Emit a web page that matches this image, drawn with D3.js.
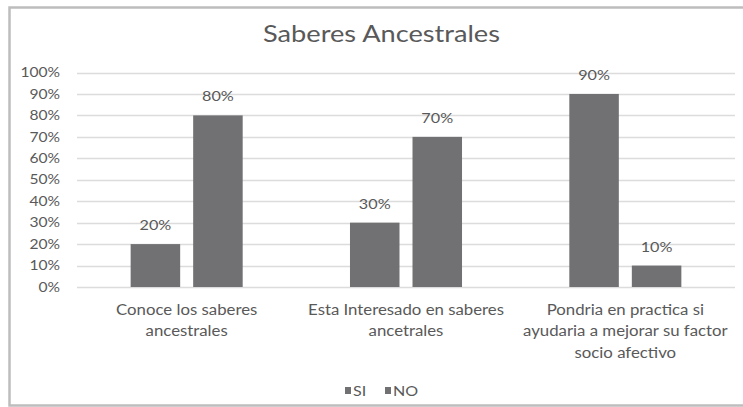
<!DOCTYPE html>
<html><head><meta charset="utf-8">
<script src="https://cdn.jsdelivr.net/npm/d3@7"></script>
<style>body{margin:0;background:#fff}svg{display:block}text{font-family:Lato,"Open Sans",sans-serif}</style>
</head><body>
<svg id="c" width="743" height="407"></svg>
<script>
const categories = [
  ["Conoce los saberes", "ancestrales"],
  ["Esta Interesado en saberes", "ancetrales"],
  ["Pondria en practica si", "ayudaria a mejorar su factor", "socio afectivo"]
];
const seriesNames = ["SI", "NO"];
const siValues = [0.2, 0.3, 0.9];
const noValues = [0.8, 0.7, 0.1];
const yTicks = [0,0.1,0.2,0.3,0.4,0.5,0.6,0.7,0.8,0.9,1.0];
const title = "Saberes Ancestrales";

const svg = d3.select("#c");
const colBar = "#717073", colText = "#595959", colGrid = "#dcdcdc";

function stretch(sel, sx){
  sel.each(function(){
    const x = +this.getAttribute("x") || 0;
    this.setAttribute("transform", `translate(${x},0) scale(${sx},1) translate(${-x},0)`);
  });
}

// frame
svg.append("rect").attr("x",9.5).attr("y",7.5).attr("width",760).attr("height",398)
  .attr("fill","none").attr("stroke","#bdbdbd").attr("stroke-width",2.5);

const x0 = d3.scaleBand().domain(d3.range(categories.length)).range([77,735]).paddingInner(0).paddingOuter(0);
const x1 = d3.scaleBand().domain(seriesNames).range([0, x0.bandwidth()]).paddingInner(0.208).paddingOuter(0.858);
const y = d3.scaleLinear().domain([0,1]).range([287,72.5]);

const tt = svg.append("text").attr("x",381.5).attr("y",41.5).attr("text-anchor","middle")
  .attr("font-size",23).attr("fill",colText).text(title);
tt.attr("textLength",237).attr("lengthAdjust","spacingAndGlyphs");

// grid
svg.append("g").selectAll("line").data(yTicks).join("line")
  .attr("x1",77).attr("x2",735).attr("y1",d=>Math.round(y(d))+0.5).attr("y2",d=>Math.round(y(d))+0.5)
  .attr("stroke",colGrid).attr("stroke-width",1.3);

// y axis
const yAxis = d3.axisLeft(y).tickValues(yTicks).tickFormat(d3.format(".0%")).tickSize(0).tickPadding(0);
const gy = svg.append("g").attr("transform","translate(60,0)").call(yAxis);
gy.select(".domain").remove();
gy.selectAll("text").attr("font-size",13).attr("fill",colText).attr("font-family","Lato,sans-serif")
  .attr("transform","scale(1.2,1)");

const data = categories.map((c,i)=>[{k:"SI",v:siValues[i],i},{k:"NO",v:noValues[i],i}]);
const groups = svg.append("g").selectAll("g").data(data).join("g")
  .attr("transform",(d,i)=>`translate(${x0(i)},0)`);
groups.selectAll("rect").data(d=>d).join("rect")
  .attr("x",d=>x1(d.k)).attr("width",x1.bandwidth())
  .attr("y",d=>y(d.v)).attr("height",d=>y(0)-y(d.v)).attr("fill",colBar);
const vl = groups.selectAll("text").data(d=>d).join("text")
  .attr("x",d=>x1(d.k)+x1.bandwidth()/2).attr("y",d=>y(d.v)-14)
  .attr("text-anchor","middle").attr("font-size",13.5).attr("fill",colText)
  .text(d=>d3.format(".0%")(d.v));
stretch(vl, 1.2);

// category labels
const gx = svg.append("g");
categories.forEach((lines,i)=>{
  const cx = x0(i)+x0.bandwidth()/2;
  const t = gx.append("text").attr("x",cx).attr("y",315)
    .attr("text-anchor","middle").attr("font-size",15).attr("fill",colText);
  lines.forEach((l,j)=>t.append("tspan").attr("x",cx).attr("dy",j?21.5:0).text(l));
  stretch(t, 1.12);
});

// legend
const lg = svg.append("g");
const legX = [345, 385];
seriesNames.forEach((s,i)=>{
  lg.append("rect").attr("x",legX[i]).attr("y",387).attr("width",6).attr("height",7).attr("fill",colBar);
  const lt = lg.append("text").attr("x",legX[i]+8).attr("y",396).attr("font-size",14).attr("fill",colText).text(s);
  stretch(lt, 1.15);
});
</script>
</body></html>
